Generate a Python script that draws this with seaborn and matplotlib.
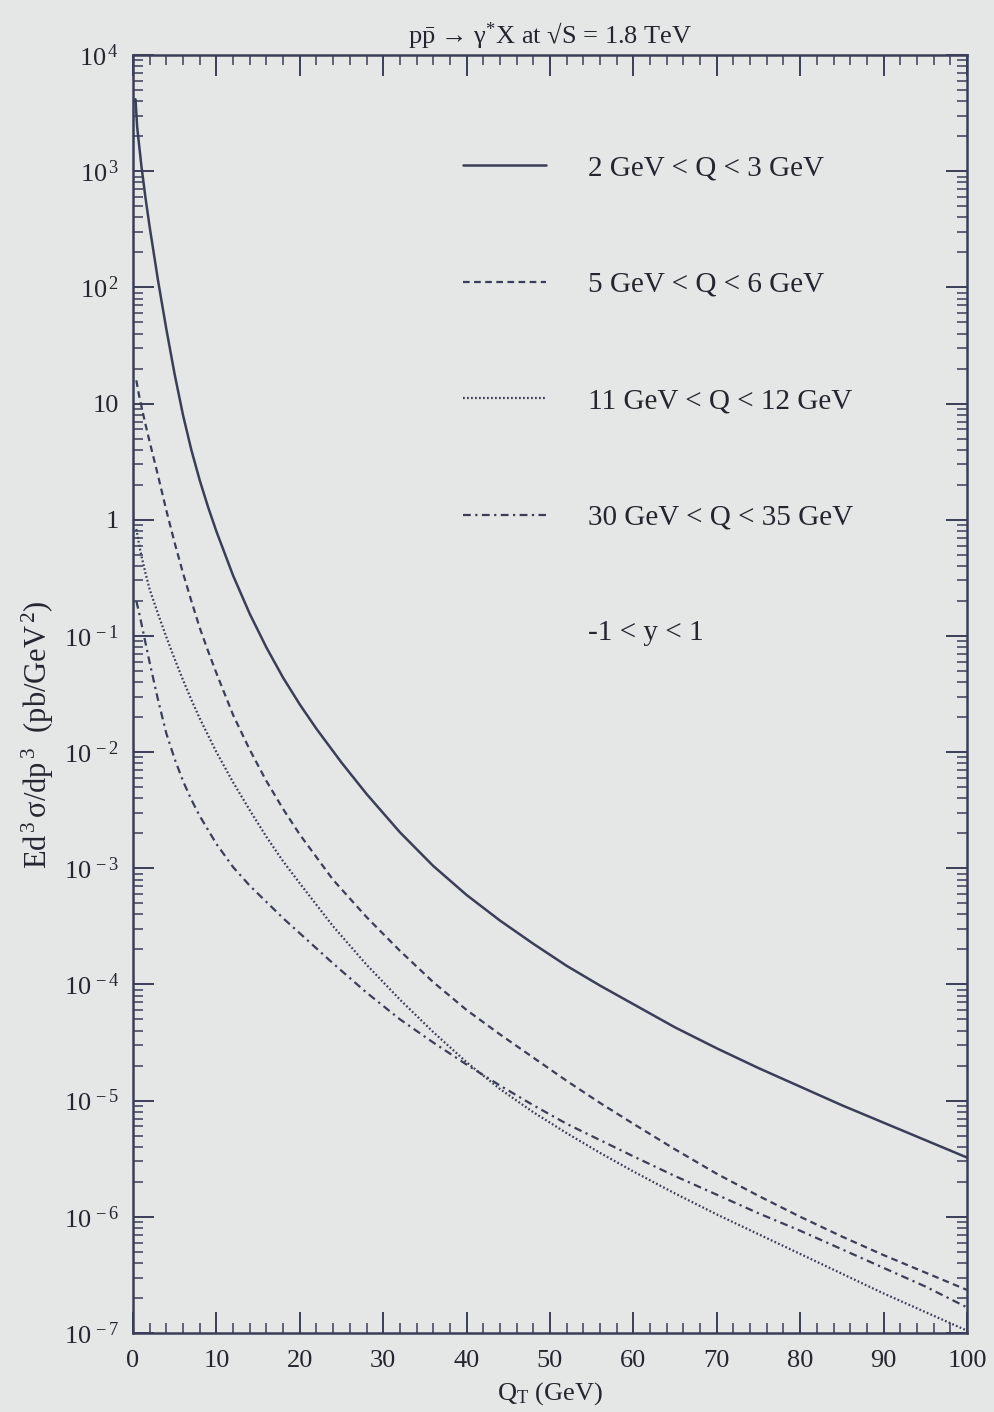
import numpy as np
import pandas as pd
import matplotlib
matplotlib.use("Agg")
import matplotlib.pyplot as plt
import seaborn as sns
from matplotlib.ticker import MultipleLocator, FixedLocator, NullFormatter, LogLocator

# ---------------- data (values given as log10 of the cross section) -------------
qt_a = [0.3, 0.5, 1, 1.5, 2, 3, 4, 5, 6, 7, 8, 9, 10, 12, 14, 16, 18, 20, 22, 25, 28, 32, 36, 40,
        44, 48, 52, 56, 60, 65, 70, 75, 80, 85, 90, 95, 100]
log_a = [3.62, 3.38, 3.05, 2.77, 2.52, 2.06, 1.64, 1.25, 0.90, 0.60, 0.34, 0.11, -0.10, -0.48, -0.81,
         -1.10, -1.36, -1.59, -1.80, -2.09, -2.36, -2.69, -2.98, -3.23, -3.45, -3.65, -3.84, -4.01,
         -4.17, -4.37, -4.55, -4.72, -4.88, -5.04, -5.19, -5.34, -5.49]

qt_b = [0.4, 0.7, 1, 1.5, 2, 3, 4, 5, 6, 7, 8, 9, 10, 12, 14, 16, 18, 20, 24, 28, 32, 36, 40, 44,
        48, 52, 56, 60, 65, 70, 75, 80, 85, 90, 95, 100]
log_b = [1.2, 1.08, 0.98, 0.82, 0.67, 0.38, 0.08, -0.2, -0.46, -0.7, -0.93, -1.13, -1.32, -1.68,
         -1.98, -2.25, -2.49, -2.71, -3.1, -3.42, -3.71, -3.98, -4.22, -4.43, -4.63, -4.83, -5.02,
         -5.20, -5.42, -5.63, -5.82, -6.0, -6.17, -6.33, -6.48, -6.63]

qt_c = [0.4, 0.7, 1, 1.5, 2, 3, 4, 5, 6, 7, 8, 10, 12, 14, 16, 18, 20, 24, 28, 32, 36, 40, 44, 48,
        52, 56, 60, 65, 70, 75, 80, 85, 90, 95, 100]
log_c = [-0.08, -0.2, -0.31, -0.46, -0.6, -0.81, -1.01, -1.2, -1.38, -1.55, -1.71, -2.0, -2.26,
         -2.5, -2.73, -2.94, -3.13, -3.5, -3.83, -4.13, -4.41, -4.67, -4.9, -5.1, -5.28, -5.45,
         -5.61, -5.8, -5.98, -6.15, -6.32, -6.49, -6.66, -6.82, -6.98]

qt_d = [0.4, 0.7, 1, 1.5, 2, 3, 4, 5, 6, 7, 8, 10, 12, 14, 16, 18, 20, 24, 28, 32, 36, 40, 44, 48,
        52, 56, 60, 65, 70, 75, 80, 85, 90, 95, 100]
log_d = [-0.7, -0.79, -0.89, -1.06, -1.23, -1.55, -1.84, -2.06, -2.25, -2.41, -2.55, -2.79, -2.99,
         -3.15, -3.29, -3.43, -3.56, -3.82, -4.07, -4.30, -4.50, -4.69, -4.87, -5.04, -5.2, -5.34,
         -5.48, -5.65, -5.81, -5.97, -6.12, -6.28, -6.44, -6.6, -6.78]

series_labels = ["2 GeV < Q < 3 GeV", "5 GeV < Q < 6 GeV", "11 GeV < Q < 12 GeV", "30 GeV < Q < 35 GeV"]
extra_label = "-1 < y < 1"

x_ticks = [0, 10, 20, 30, 40, 50, 60, 70, 80, 90, 100]
y_ticks = [1e4, 1e3, 1e2, 1e1, 1e0, 1e-1, 1e-2, 1e-3, 1e-4, 1e-5, 1e-6, 1e-7]
y_ticklabels = [r"10$^{\,4}$", r"10$^{\,3}$", r"10$^{\,2}$", "10", "1", r"10$^{\,-1}$", r"10$^{\,-2}$",
                r"10$^{\,-3}$", r"10$^{\,-4}$", r"10$^{\,-5}$", r"10$^{\,-6}$", r"10$^{\,-7}$"]

# ---------------- style ----------------
BG = "#e4e7e5"
INK = "#3b3e58"
TXT = "#25252f"

sns.set_theme(style="ticks")
plt.rcParams["font.family"] = ["Liberation Serif", "DejaVu Serif"]
plt.rcParams["mathtext.fontset"] = "custom"
plt.rcParams["mathtext.rm"] = "Liberation Serif"
plt.rcParams["mathtext.it"] = "Liberation Serif:italic"
plt.rcParams["mathtext.bf"] = "Liberation Serif:bold"

fig = plt.figure(figsize=(9.94, 14.12), dpi=100, facecolor=BG)
ax = fig.add_axes([0.1338, 0.056, 0.9728 - 0.1338, 0.961 - 0.056])
ax.set_facecolor(BG)

frames = []
for qt, lg, lab in zip([qt_a, qt_b, qt_c, qt_d], [log_a, log_b, log_c, log_d], series_labels):
    frames.append(pd.DataFrame({"QT": qt, "sigma": np.power(10.0, lg), "series": lab}))
df = pd.concat(frames, ignore_index=True)

styles = {
    series_labels[0]: dict(linestyle="-", lw=1.8),
    series_labels[1]: dict(linestyle=(0, (3.0, 2.0)), lw=1.6),
    series_labels[2]: dict(linestyle=(0, (0.8, 1.0)), lw=1.6),
    series_labels[3]: dict(linestyle=(0, (3.5, 2.0, 1.0, 2.0)), lw=1.6),
}
for lab in series_labels:
    sub = df[df["series"] == lab]
    sns.lineplot(data=sub, x="QT", y="sigma", ax=ax, color=INK, label=lab, sort=False,
                 estimator=None, **styles[lab])

ax.set_yscale("log")
ax.set_xlim(0, 100)
ax.set_ylim(1e-7, 1e4)

ax.set_xticks(x_ticks)
ax.set_xticklabels([str(t) for t in x_ticks])
ax.xaxis.set_minor_locator(MultipleLocator(2))
ax.yaxis.set_major_locator(FixedLocator(y_ticks))
ax.set_yticklabels(y_ticklabels)
ax.yaxis.set_minor_locator(LogLocator(base=10, subs=np.arange(2, 10), numticks=100))
ax.yaxis.set_minor_formatter(NullFormatter())

ax.tick_params(which="both", direction="in", top=True, right=True, color=INK, labelcolor=TXT)
ax.tick_params(which="major", length=15, width=1.4, labelsize=19)
ax.tick_params(axis="y", which="major", pad=10)
ax.tick_params(axis="x", which="major", pad=12)
ax.tick_params(which="minor", length=7, width=1.1)
for s in ax.spines.values():
    s.set_color(INK)
    s.set_linewidth(1.8)

ax.set_xlabel(r"Q$_\mathrm{T}$ (GeV)", fontsize=19, color=TXT, labelpad=6)
ax.set_ylabel(r"Ed$^{\,3}\,$σ/dp$^{\,3}$  (pb/GeV$^{\,2}$)", fontsize=22, color=TXT)
ax.yaxis.set_label_coords(-0.092, 0.468)
ax.set_title(r"p$\bar{\mathrm{p}}$ → γ$^{*}$X at √S = 1.8 TeV", fontsize=19, color=TXT, pad=8)

leg = ax.legend(loc="upper left", bbox_to_anchor=(0.382, 0.931), frameon=False, fontsize=21,
                handlelength=2.85, handletextpad=1.42, labelspacing=3.09, borderaxespad=0)
for t in leg.get_texts():
    t.set_color(TXT)
ax.text(0.546, 0.5477, extra_label, transform=ax.transAxes, fontsize=21, color=TXT,
        ha="left", va="center")

fig.savefig("out.png", dpi=100, facecolor=BG)
